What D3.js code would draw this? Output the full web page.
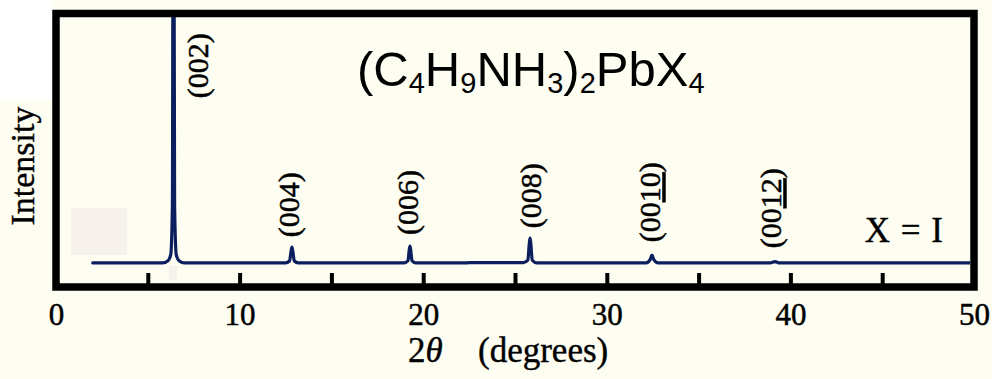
<!DOCTYPE html>
<html>
<head>
<meta charset="utf-8">
<script src="https://cdn.jsdelivr.net/npm/d3@7"></script>
<style>
  html, body { margin: 0; padding: 0; background: #fdfdf1; }
  svg { display: block; }
</style>
</head>
<body>
<svg id="chart" width="992" height="379"></svg>
<script>
// --- Dữ liệu phổ XRD ---
const twoTheta = [
  2.0, 5.8, 6.1, 6.25, 6.34, 6.38, 6.42, 6.46, 6.55, 6.7, 7.0,
  12.5, 12.72, 12.8, 12.85, 12.9, 12.98, 13.2,
  18.95, 19.17, 19.24, 19.28, 19.32, 19.39, 19.6,
  22.3, 22.5,
  25.45, 25.7, 25.78, 25.82, 25.86, 25.94, 26.2,
  32.15, 32.36, 32.46, 32.56, 32.8,
  38.9, 39.16, 39.4,
  50.0
];
const intensity = [
  88, 88, 96, 118, 300, 1500, 1500, 300, 118, 96, 88,
  88, 95, 130, 146, 130, 95, 88,
  88, 96, 135, 150, 135, 96, 88,
  88, 89,
  89, 98, 160, 179, 160, 98, 88,
  88, 100, 117, 100, 88,
  88, 93, 88,
  88
];

const peakLabels = ["(002)", "(004)", "(006)", "(008)", "(0010)", "(0012)"];
const labelTheta = [7.7, 12.64, 19.17, 25.82, 32.35, 38.94];
const labelLevel = [690, 182, 190, 215, 164, 142];

const xTicks = [0, 5, 10, 15, 20, 25, 30, 35, 40, 45, 50];

const points = twoTheta.map((t, i) => ({ t: t, v: intensity[i] }));

// --- SVG ---
const svg = d3.select("#chart");
const serif = "'Liberation Serif', 'Times New Roman', serif";

// nền + các mảng màu nhạt như ảnh gốc
svg.append("rect").attr("width", 992).attr("height", 379).attr("fill", "#fdfdf1");
svg.append("rect").attr("x", 0).attr("y", 0).attr("width", 52).attr("height", 100).attr("fill", "#ffffff");

const mLeft = 56, mRight = 974, mTop = 13.5, mBottom = 287;

const x = d3.scaleLinear().domain([0, 50]).range([mLeft, mRight]);
const y = d3.scaleLinear().domain([0, 1000]).range([mBottom, mTop]);

svg.append("rect").attr("x", 71).attr("y", 208).attr("width", 56).attr("height", 47).attr("fill", "#f6f1ec");
svg.append("rect").attr("x", 169).attr("y", 266).attr("width", 8).attr("height", 14).attr("fill", "#f6f1ec");

// clip trong khung
svg.append("clipPath").attr("id", "clip")
  .append("rect")
    .attr("x", mLeft + 4).attr("y", mTop + 3.5)
    .attr("width", mRight - mLeft - 8).attr("height", mBottom - mTop - 7);

// Đường phổ
const line = d3.line()
  .x(d => x(d.t))
  .y(d => y(d.v))
  .curve(d3.curveMonotoneX);

svg.append("path")
  .datum(points)
  .attr("clip-path", "url(#clip)")
  .attr("fill", "none")
  .attr("stroke", "#0b1f5e")
  .attr("stroke-width", 3.2)
  .attr("stroke-linejoin", "round")
  .attr("stroke-linecap", "round")
  .attr("d", line);

// Trục X (vạch hướng vào trong)
const axis = svg.append("g")
  .attr("transform", `translate(0,${mBottom})`)
  .call(d3.axisBottom(x).tickValues(xTicks).tickSize(-14)
    .tickFormat(d => d % 10 === 0 ? d : ""));
axis.select(".domain").remove();
axis.selectAll(".tick line")
  .attr("stroke", "#000")
  .attr("stroke-width", 4)
  .attr("display", d => (d === 0 || d === 50) ? "none" : null);
axis.selectAll(".tick text")
  .attr("y", 38).attr("dy", 0)
  .attr("fill", "#000")
  .attr("stroke", "#000").attr("stroke-width", 0.5)
  .style("font-family", serif)
  .style("font-size", "31px");

// Khung
svg.append("rect")
  .attr("x", mLeft).attr("y", mTop)
  .attr("width", mRight - mLeft).attr("height", mBottom - mTop)
  .attr("fill", "none")
  .attr("stroke", "#000")
  .attr("stroke-width", 7.5);

// Nhãn đỉnh (xoay dọc)
peakLabels.forEach((lab, i) => {
  const t = svg.append("text")
    .attr("transform", `translate(${x(labelTheta[i])},${y(labelLevel[i])}) rotate(-90)`)
    .attr("dy", "0.35em")
    .style("font-family", serif)
    .style("font-size", "30px")
    .attr("fill", "#000")
    .attr("stroke", "#000").attr("stroke-width", 0.5);
  if (lab.length > 5) {
    t.append("tspan").text("(00");
    t.append("tspan").style("text-decoration", "underline").text(lab.slice(3, 5));
    t.append("tspan").text(")");
  } else {
    t.text(lab);
  }
});

// Nhãn trục
svg.append("text")
  .attr("transform", "translate(34,166) rotate(-90)")
  .attr("text-anchor", "middle")
  .attr("stroke", "#000").attr("stroke-width", 0.4)
  .style("font-family", serif)
  .style("font-size", "34px")
  .text("Intensity");

const xt = svg.append("text")
  .attr("y", 362)
  .attr("stroke", "#000").attr("stroke-width", 0.4)
  .style("font-family", serif)
  .style("font-size", "35px");
xt.append("tspan").attr("x", 408).text("2");
xt.append("tspan").style("font-style", "italic").text("θ");
xt.append("tspan").attr("x", 478).text("(degrees)");

svg.append("text")
  .attr("x", 943).attr("y", 242)
  .attr("text-anchor", "end")
  .attr("stroke", "#000").attr("stroke-width", 0.4)
  .style("font-family", serif)
  .style("font-size", "35px")
  .style("word-spacing", "2px")
  .text("X = I");

// Tiêu đề công thức
const title = svg.append("text")
  .attr("x", 357).attr("y", 86)
  .style("font-family", "'Liberation Sans', Arial, sans-serif")
  .style("font-size", "49px")
  .attr("fill", "#000");
const parts = [["(C", false], ["4", true], ["H", false], ["9", true], ["NH", false],
               ["3", true], [")", false], ["2", true], ["PbX", false], ["4", true]];
let sub = false;
parts.forEach(([s, isSub]) => {
  const ts = title.append("tspan").text(s);
  if (isSub && !sub) { ts.attr("dy", 7).style("font-size", "29px"); sub = true; }
  else if (isSub) { ts.style("font-size", "29px"); }
  else if (sub) { ts.attr("dy", -7); sub = false; }
});
</script>
</body>
</html>
